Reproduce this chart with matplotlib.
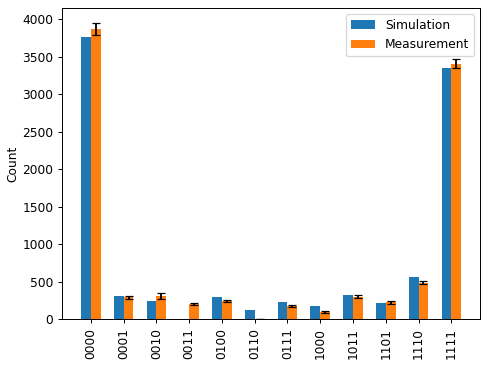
import numpy as np
import matplotlib.pyplot as plt

states = ['0000', '0001', '0010', '0011', '0100', '0110',
          '0111', '1000', '1011', '1101', '1110', '1111']
simulation = [3764, 307, 244, 0, 293, 120, 231, 169, 320, 209, 556, 3342]
measurement = [3867, 289, 307, 200, 244, 0, 177, 93, 298, 222, 484, 3404]
meas_err = [75, 18, 35, 18, 16, 0, 14, 12, 20, 20, 22, 62]

x = np.arange(len(states))
w = 0.3

DPI = 88
fig = plt.figure(figsize=(488 / DPI, 366 / DPI), dpi=DPI)
ax = fig.add_axes([0.127, 0.128, 0.857, 0.85])

ax.bar(x - w/2, simulation, width=w, color='#1f77b4', label='Simulation')
ax.bar(x + w/2, measurement, width=w, color='#ff7f0e', label='Measurement',
       yerr=meas_err, capsize=3, error_kw=dict(ecolor='black', elinewidth=1.5))

ax.set_xticks(x)
ax.set_xticklabels(states, rotation=90)
ax.set_ylabel('Count', labelpad=2)
ax.set_ylim(0, 4147)
ax.legend(loc='upper right')

fig.savefig('out.png', dpi=DPI)
